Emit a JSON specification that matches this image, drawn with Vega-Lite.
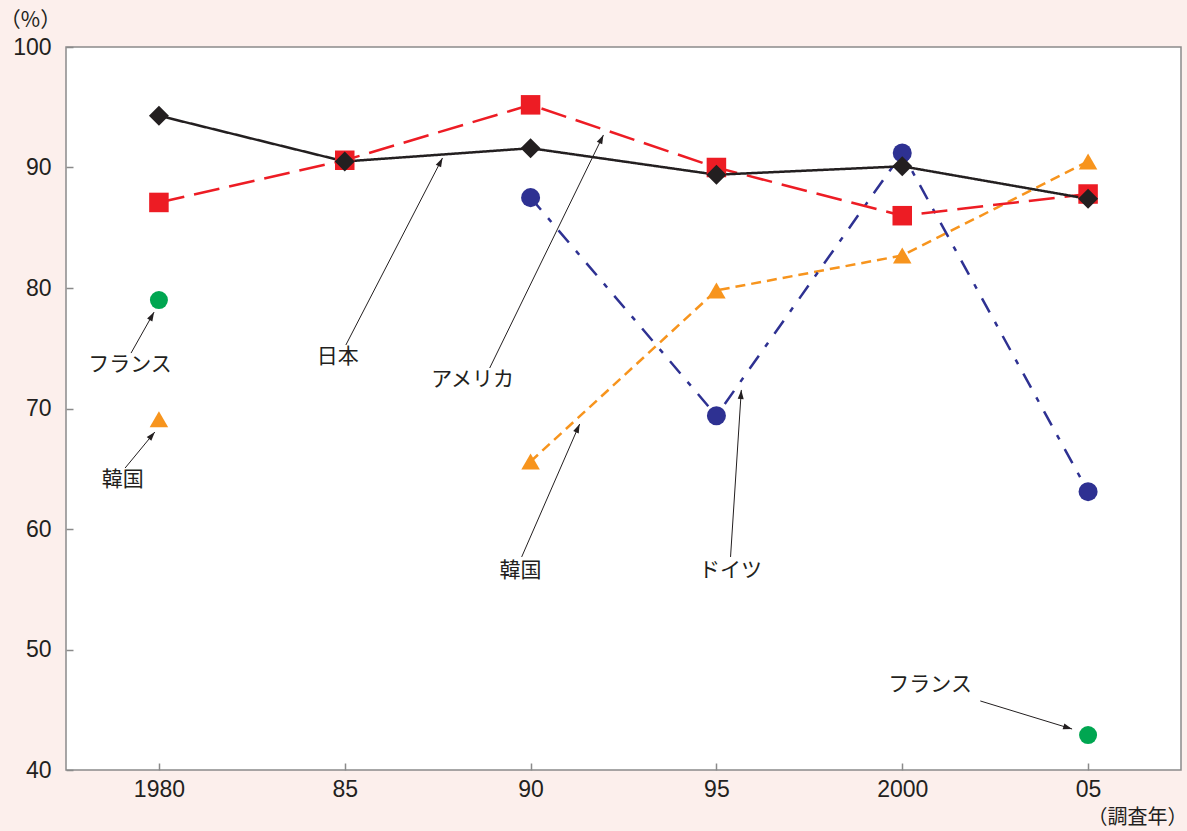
{
  "$schema": "https://vega.github.io/schema/vega-lite/v6.json",
  "width": 1115,
  "height": 723,
  "autosize": {"type": "none"},
  "padding": {"left": 66, "top": 47, "right": 6, "bottom": 61},
  "background": "#fcefec",
  "config": {
    "view": {"fill": "#ffffff", "stroke": "#8a8a8a", "strokeWidth": 1.5},
    "font": "Liberation Sans"
  },
  "datasets": {
    "series": [
      {"country": "フランス", "year": 1980, "value": 79.0, "line": null},
      {"country": "フランス", "year": 2005, "value": 42.9, "line": null},
      {"country": "韓国", "year": 1980, "value": 69.1, "line": null},
      {"country": "韓国", "year": 1990, "value": 65.6, "line": "韓国"},
      {"country": "韓国", "year": 1995, "value": 79.8, "line": "韓国"},
      {"country": "韓国", "year": 2000, "value": 82.7, "line": "韓国"},
      {"country": "韓国", "year": 2005, "value": 90.5, "line": "韓国"},
      {"country": "ドイツ", "year": 1990, "value": 87.5, "line": "ドイツ"},
      {"country": "ドイツ", "year": 1995, "value": 69.4, "line": "ドイツ"},
      {"country": "ドイツ", "year": 2000, "value": 91.2, "line": "ドイツ"},
      {"country": "ドイツ", "year": 2005, "value": 63.1, "line": "ドイツ"},
      {"country": "アメリカ", "year": 1980, "value": 87.1, "line": "アメリカ"},
      {"country": "アメリカ", "year": 1985, "value": 90.6, "line": "アメリカ"},
      {"country": "アメリカ", "year": 1990, "value": 95.2, "line": "アメリカ"},
      {"country": "アメリカ", "year": 1995, "value": 90.0, "line": "アメリカ"},
      {"country": "アメリカ", "year": 2000, "value": 86.0, "line": "アメリカ"},
      {"country": "アメリカ", "year": 2005, "value": 87.8, "line": "アメリカ"},
      {"country": "日本", "year": 1980, "value": 94.3, "line": "日本"},
      {"country": "日本", "year": 1985, "value": 90.5, "line": "日本"},
      {"country": "日本", "year": 1990, "value": 91.6, "line": "日本"},
      {"country": "日本", "year": 1995, "value": 89.4, "line": "日本"},
      {"country": "日本", "year": 2000, "value": 90.1, "line": "日本"},
      {"country": "日本", "year": 2005, "value": 87.4, "line": "日本"}
    ],
    "labels": [
      {"label": "フランス", "x": 1979.22, "y": 73.6},
      {"label": "韓国", "x": 1979.03, "y": 64.1},
      {"label": "日本", "x": 1984.81, "y": 74.3},
      {"label": "アメリカ", "x": 1988.44, "y": 72.4},
      {"label": "韓国", "x": 1989.73, "y": 56.5},
      {"label": "ドイツ", "x": 1995.38, "y": 56.5},
      {"label": "フランス", "x": 2000.75, "y": 47.05}
    ],
    "arrows": [
      {"x1": 1979.25, "y1": 74.6, "x2": 1979.87, "y2": 78.0, "angle": 29},
      {"x1": 1979.09, "y1": 65.06, "x2": 1979.89, "y2": 68.05, "angle": 40},
      {"x1": 1985.03, "y1": 75.27, "x2": 1987.63, "y2": 90.79, "angle": 27},
      {"x1": 1988.9, "y1": 73.36, "x2": 1991.96, "y2": 92.7, "angle": 26},
      {"x1": 1989.76, "y1": 57.68, "x2": 1991.32, "y2": 68.71, "angle": 24},
      {"x1": 1995.38, "y1": 57.68, "x2": 1995.67, "y2": 71.54, "angle": 4},
      {"x1": 2002.1, "y1": 45.73, "x2": 2004.57, "y2": 43.4, "angle": 107}
    ]
  },
  "layer": [
    {
      "data": {"name": "series"},
      "transform": [{"filter": "datum.line != null"}],
      "mark": {"type": "line", "strokeWidth": 2.5},
      "encoding": {
        "x": {
          "field": "year", "type": "quantitative",
          "scale": {"domain": [1977.5, 2007.5], "nice": false, "zero": false},
          "axis": {
            "values": [1980, 1985, 1990, 1995, 2000, 2005],
            "labelExpr": "datum.value == 1980 || datum.value == 2000 ? toString(datum.value) : substring(toString(datum.value), 2)",
            "domain": false, "grid": false,
            "tickSize": -7, "tickColor": "#8a8a8a", "tickWidth": 1.5,
            "labelFontSize": 23, "labelColor": "#231F20", "labelPadding": 15, "labelFlush": false,
            "title": "（調査年）", "titleFont": "Noto Sans CJK JP", "titleFontSize": 20, "titleFontWeight": "normal",
            "titleColor": "#231F20", "titleX": 1121, "titleY": 47, "titleAlign": "right", "titleBaseline": "middle", "titleAnchor": null
          }
        },
        "y": {
          "field": "value", "type": "quantitative",
          "scale": {"domain": [40, 100], "nice": false, "zero": false},
          "axis": {
            "values": [40, 50, 60, 70, 80, 90, 100],
            "domain": false, "grid": false,
            "tickSize": -7, "tickColor": "#8a8a8a", "tickWidth": 1.5,
            "labelFontSize": 23, "labelColor": "#231F20", "labelPadding": 22,
            "title": "（%）", "titleFont": "Noto Sans CJK JP", "titleFontSize": 21, "titleFontWeight": "normal",
            "titleColor": "#231F20", "titleAngle": 0, "titleX": -36, "titleY": -27, "titleAlign": "center", "titleBaseline": "middle"
          }
        },
        "detail": {"field": "line", "type": "nominal"},
        "color": {
          "field": "country", "type": "nominal", "legend": null,
          "scale": {"domain": ["フランス", "韓国", "ドイツ", "アメリカ", "日本"], "range": ["#00A651", "#F7941D", "#2E3192", "#ED1C24", "#231F20"]}
        },
        "strokeDash": {
          "field": "country", "type": "nominal", "legend": null,
          "scale": {"domain": ["フランス", "韓国", "ドイツ", "アメリカ", "日本"], "range": [[1, 0], [10, 6], [16, 11, 5, 11], [26, 10], [1, 0]]}
        }
      }
    },
    {
      "data": {"name": "series"},
      "mark": {"type": "point", "filled": true, "opacity": 1},
      "encoding": {
        "x": {"field": "year", "type": "quantitative"},
        "y": {"field": "value", "type": "quantitative"},
        "color": {"field": "country", "type": "nominal", "legend": null},
        "shape": {
          "field": "country", "type": "nominal", "legend": null,
          "scale": {"domain": ["フランス", "韓国", "ドイツ", "アメリカ", "日本"], "range": ["circle", "triangle-up", "circle", "square", "diamond"]}
        },
        "size": {
          "field": "country", "type": "nominal", "legend": null,
          "scale": {"domain": ["フランス", "韓国", "ドイツ", "アメリカ", "日本"], "range": [324, 400, 441, 361, 320]}
        }
      }
    },
    {
      "data": {"name": "arrows"},
      "mark": {"type": "rule", "color": "#231F20", "strokeWidth": 1},
      "encoding": {
        "x": {"field": "x1", "type": "quantitative"},
        "y": {"field": "y1", "type": "quantitative"},
        "x2": {"field": "x2"},
        "y2": {"field": "y2"}
      }
    },
    {
      "data": {"name": "arrows"},
      "mark": {"type": "point", "filled": true, "opacity": 1, "color": "#231F20", "shape": "M0,0L-0.6,1.8L0.6,1.8Z", "size": 100},
      "encoding": {
        "x": {"field": "x2", "type": "quantitative"},
        "y": {"field": "y2", "type": "quantitative"},
        "angle": {"field": "angle", "type": "quantitative", "scale": null}
      }
    },
    {
      "data": {"name": "labels"},
      "mark": {"type": "text", "font": "Noto Sans CJK JP", "fontSize": 21, "color": "#231F20", "align": "center", "baseline": "middle"},
      "encoding": {
        "x": {"field": "x", "type": "quantitative"},
        "y": {"field": "y", "type": "quantitative"},
        "text": {"field": "label"}
      }
    }
  ]
}
